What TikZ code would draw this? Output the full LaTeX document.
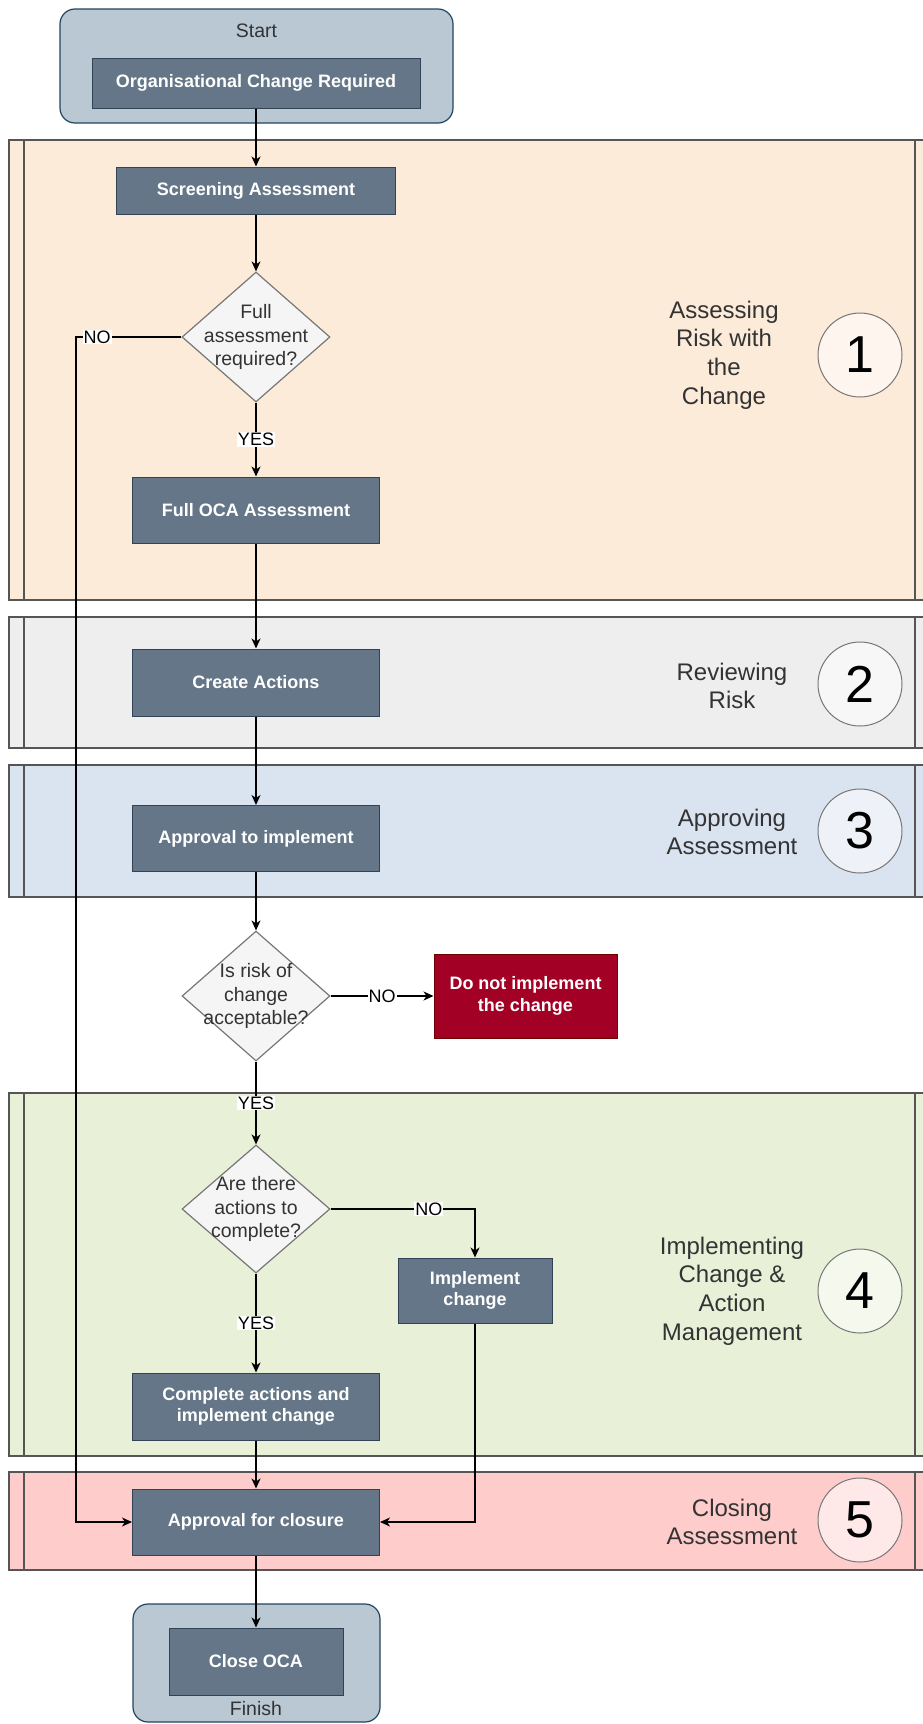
\documentclass[tikz,border=0pt]{standalone}
\usepackage{fontspec}
\setmainfont{Liberation Sans}
\usetikzlibrary{shapes.geometric,arrows.meta}

\definecolor{boxfill}{HTML}{647687}
\definecolor{boxline}{HTML}{314354}
\definecolor{termfill}{HTML}{BAC8D3}
\definecolor{termline}{HTML}{23445D}
\definecolor{askfill}{HTML}{F5F5F5}
\definecolor{askline}{HTML}{777777}
\definecolor{stopfill}{HTML}{A20025}
\definecolor{stopline}{HTML}{6F0000}
\definecolor{laneline}{HTML}{555555}
\definecolor{laneA}{HTML}{FDEBDA}
\definecolor{laneB}{HTML}{EEEEEE}
\definecolor{laneC}{HTML}{DAE3F0}
\definecolor{laneD}{HTML}{E8F0D8}
\definecolor{laneE}{HTML}{FFCCCC}
\definecolor{inktext}{HTML}{333333}

\tikzset{
  stepbox/.style={draw=boxline, fill=boxfill, text=white, line width=1pt, inner sep=0pt, align=center, font=\fontsize{18}{21.6}\selectfont\bfseries},
  termbox/.style={draw=termline, fill=termfill, line width=1.2pt, rounded corners=15pt, inner sep=0pt},
  termtext/.style={text=inktext, font=\fontsize{19.5}{23.4}\selectfont},
  decision/.style={diamond, draw=askline, fill=askfill, line width=1.2pt, inner sep=0pt, minimum width=148pt, minimum height=130pt},
  asktext/.style={text=inktext, align=center, font=\fontsize{19.5}{23.4}\selectfont},
  lane/.style={draw=laneline, line width=1.2pt},
  lanetitle/.style={text=inktext, align=center, font=\fontsize{24}{28.8}\selectfont},
  stagenum/.style={circle, draw=askline, fill=white, fill opacity=0.55, text opacity=1, text=black, minimum size=84pt, inner sep=0pt, line width=1pt, font=\fontsize{52}{52}\selectfont},
  flow/.style={line width=1.3pt, -{Stealth[length=10pt,width=9pt,inset=3pt]}},
  answer/.style={fill=white, inner sep=1pt, text=black, font=\fontsize{18}{18}\selectfont}
}

\begin{document}
\begin{tikzpicture}[x=1pt, y=-1pt]
  \useasboundingbox (0,0) rectangle (922,1724);

  % Lane 1: assessing risk
  \draw[lane, fill=laneA] (9,140) rectangle (930,600);
  \draw[lane] (24,140) -- (24,600) (915,140) -- (915,600);
  \node[lanetitle] (t1) at (724,355) {Assessing\\Risk with\\the\\Change};
  \node[stagenum] (c1) at (860,355) {1};

  % Lane 2: reviewing risk
  \draw[lane, fill=laneB] (9,617) rectangle (930,748);
  \draw[lane] (24,617) -- (24,748) (915,617) -- (915,748);
  \node[lanetitle] (t2) at (732,686) {Reviewing\\Risk};
  \node[stagenum] (c2) at (860,684) {2};

  % Lane 3: approving
  \draw[lane, fill=laneC] (9,765) rectangle (930,897);
  \draw[lane] (24,765) -- (24,897) (915,765) -- (915,897);
  \node[lanetitle] (t3) at (732,832) {Approving\\Assessment};
  \node[stagenum] (c3) at (860,831) {3};

  % Lane 4: implementing
  \draw[lane, fill=laneD] (9,1093) rectangle (930,1456);
  \draw[lane] (24,1093) -- (24,1456) (915,1093) -- (915,1456);
  \node[lanetitle] (t4) at (732,1291) {Implementing\\Change \&\\Action\\Management};
  \node[stagenum] (c4) at (860,1291) {4};

  % Lane 5: closing
  \draw[lane, fill=laneE] (9,1472) rectangle (930,1570);
  \draw[lane] (24,1472) -- (24,1570) (915,1472) -- (915,1570);
  \node[lanetitle] (t5) at (732,1522) {Closing\\Assessment};
  \node[stagenum] (c5) at (860,1520) {5};

  % Start
  \node[termbox, minimum width=393pt, minimum height=114pt] (start) at (256.5,66) {};
  \node[termtext] (startlbl) at (256.5,31) {Start};
  \node[stepbox, minimum width=328pt, minimum height=50pt] (orgreq) at (256,83) {Organisational Change Required};

  % Steps
  \node[stepbox, minimum width=279pt, minimum height=47pt] (screen) at (256,190.5) {Screening Assessment};
  \node[decision] (d1) at (256,337) {};
  \node[asktext] (d1t) at (d1) {Full\\assessment\\required?};
  \node[stepbox, minimum width=247pt, minimum height=66pt] (fulloca) at (256,510) {Full OCA Assessment};
  \node[stepbox, minimum width=247pt, minimum height=67pt] (create) at (256,682.5) {Create Actions};
  \node[stepbox, minimum width=247pt, minimum height=66pt] (approve) at (256,838.5) {Approval to implement};
  \node[decision] (d2) at (256,996) {};
  \node[asktext] (d2t) at (d2) {Is risk of\\change\\acceptable?};
  \node[stepbox, draw=stopline, fill=stopfill, minimum width=183pt, minimum height=84pt] (donot) at (525.5,996) {Do not implement\\the change};
  \node[decision, minimum height=128pt] (d3) at (256,1209) {};
  \node[asktext] (d3t) at (d3) {Are there\\actions to\\complete?};
  \node[stepbox, minimum width=154pt, minimum height=65pt] (impl) at (475,1290.5) {Implement\\change};
  \node[stepbox, minimum width=247pt, minimum height=67pt] (complete) at (256,1406.5) {Complete actions and\\implement change};
  \node[stepbox, minimum width=247pt, minimum height=66pt] (closure) at (256,1522) {Approval for closure};

  % Finish
  \node[termbox, minimum width=247pt, minimum height=118pt] (finish) at (256.5,1663) {};
  \node[stepbox, minimum width=174pt, minimum height=67pt] (closeoca) at (256,1661.5) {Close OCA};
  \node[termtext] (finishlbl) at (256,1709) {Finish};

  % Connectors
  \coordinate (nobend) at (76,337);
  \draw[flow] (orgreq.south) -- (screen.north);
  \draw[flow] (screen.south) -- (d1.north);
  \draw[flow] (d1.south) -- node[answer] {YES} (fulloca.north);
  \draw[flow] (d1.west) -- node[answer, pos=0.8] {NO} (nobend) |- (closure.west);
  \draw[flow] (fulloca.south) -- (create.north);
  \draw[flow] (create.south) -- (approve.north);
  \draw[flow] (approve.south) -- (d2.north);
  \draw[flow] (d2.east) -- node[answer] {NO} (donot.west);
  \draw[flow] (d2.south) -- node[answer] {YES} (d3.north);
  \draw[flow] (d3.east) -| node[answer, pos=0.34] {NO} (impl.north);
  \draw[flow] (d3.south) -- node[answer] {YES} (complete.north);
  \draw[flow] (complete.south) -- (closure.north);
  \draw[flow] (impl.south) |- (closure.east);
  \draw[flow] (closure.south) -- (closeoca.north);
\end{tikzpicture}
\end{document}
